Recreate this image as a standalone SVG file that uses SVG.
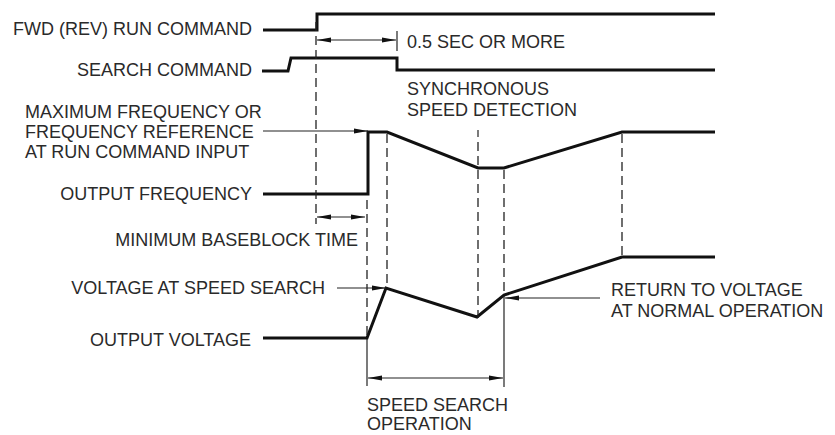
<svg xmlns="http://www.w3.org/2000/svg" width="835" height="435" viewBox="0 0 835 435">
<defs>
<style>
text{font-family:"Liberation Sans",Arial,sans-serif;font-size:18px;fill:#2a2a2a}
.sig{fill:none;stroke:#111;stroke-width:3;stroke-linejoin:miter}
.dash{fill:none;stroke:#222;stroke-width:1.3;stroke-dasharray:9 5}
.thin{fill:none;stroke:#222;stroke-width:1.2}
.arr{fill:none;stroke:#222;stroke-width:1.2;marker-end:url(#ah)}
.dim{fill:none;stroke:#222;stroke-width:1.2;marker-start:url(#ahs);marker-end:url(#ah)}
</style>
<marker id="ah" viewBox="0 0 14 6" refX="14" refY="3" markerWidth="14" markerHeight="6" markerUnits="userSpaceOnUse" orient="auto"><path d="M0,0.5 L14,3 L0,5.5 Z" fill="#111"/></marker>
<marker id="ahs" viewBox="0 0 14 6" refX="0" refY="3" markerWidth="14" markerHeight="6" markerUnits="userSpaceOnUse" orient="auto"><path d="M14,0.5 L0,3 L14,5.5 Z" fill="#111"/></marker>
</defs>
<rect width="835" height="435" fill="#fff"/>

<g id="labels">
<g id="lbl-fwd"><text x="252" y="35" text-anchor="end">FWD (REV) RUN COMMAND</text></g>
<g id="lbl-search"><text x="252" y="76" text-anchor="end">SEARCH COMMAND</text></g>
<g id="lbl-maxfreq"><text x="25" y="118">MAXIMUM FREQUENCY OR</text><text x="25" y="138">FREQUENCY REFERENCE</text><text x="25" y="158">AT RUN COMMAND INPUT</text></g>
<g id="lbl-outfreq"><text x="252" y="200" text-anchor="end">OUTPUT FREQUENCY</text></g>
<g id="lbl-baseblock"><text x="358" y="246" text-anchor="end">MINIMUM BASEBLOCK TIME</text></g>
<g id="lbl-vss"><text x="325" y="294" text-anchor="end">VOLTAGE AT SPEED SEARCH</text></g>
<g id="lbl-outvolt"><text x="251" y="346" text-anchor="end">OUTPUT VOLTAGE</text></g>
<g id="lbl-05sec"><text x="407" y="48">0.5 SEC OR MORE</text></g>
<g id="lbl-sync"><text x="407" y="95">SYNCHRONOUS</text><text x="407" y="116">SPEED DETECTION</text></g>
<g id="lbl-return"><text x="611" y="296">RETURN TO VOLTAGE</text><text x="611" y="317">AT NORMAL OPERATION</text></g>
<g id="lbl-sso"><text x="367" y="411">SPEED SEARCH</text><text x="367" y="430">OPERATION</text></g>
</g>

<g id="signals">
<g id="sig-fwd"><path class="sig" d="M263,30 H317 V14 H715"/></g>
<g id="sig-search"><path class="sig" d="M262,71 H288 L291,58 H397 V70 H715"/></g>
<g id="sig-freq"><path class="sig" d="M263,194 H368 V132 H387 L478,168 H504 L622,132 H715"/></g>
<g id="sig-volt"><path class="sig" d="M263,338 H367 L386,288 L477,317 L504,295 L622,257 H715"/></g>
</g>

<g id="connectors">
<path class="dash" d="M316,22 V224"/>
<path class="dash" d="M367,200 V338"/>
<path class="dash" d="M387,134 V288"/>
<path class="thin" d="M478,130 V137"/>
<path class="dash" d="M478,142 V318"/>
<path class="dash" d="M504,170 V297"/>
<path class="dash" d="M622,134 V257"/>
<path class="thin" d="M397,31 V51"/>
<path class="thin" d="M367,339 V386"/>
<path class="thin" d="M504,297 V387"/>
<path class="dim" d="M317,40 H396"/>
<path class="dim" d="M317,217 H365"/>
<path class="dim" d="M368,378 H503"/>
<path class="arr" d="M263,131 H368"/>
<path class="arr" d="M337,288 H386"/>
<path class="arr" d="M600,298 H505"/>
</g>
</svg>
